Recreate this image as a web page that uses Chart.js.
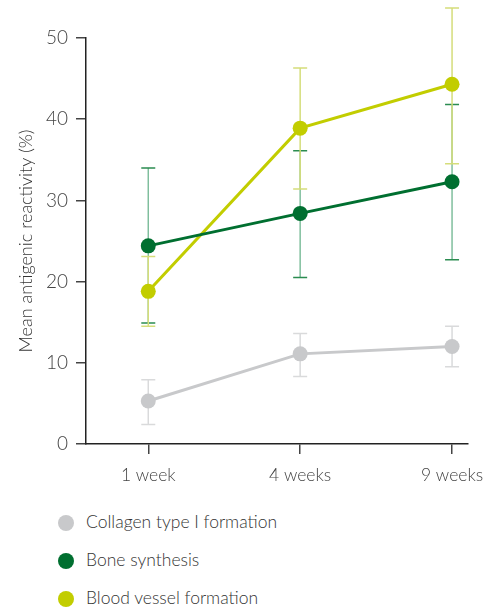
<!DOCTYPE html>
<html>
<head>
    <title>Mean antigenic reactivity</title>
    <script src="https://cdn.jsdelivr.net/npm/chart.js"></script>
    <style>
        body {
            margin: 0;
            font-family: Lato, "Open Sans", sans-serif;
            background: #fff;
        }
        #wrap {
            width: 487px;
            height: 500px;
            position: relative;
        }
        #legend {
            position: absolute;
            left: 58px;
            top: 511px;
            font-size: 17.5px;
            font-weight: 300;
            color: #333;
        }
        .item {
            height: 38px;
            display: flex;
            align-items: flex-start;
        }
        .dot {
            width: 16px;
            height: 16px;
            border-radius: 50%;
            margin-right: 12px;
            margin-top: 4px;
        }
    </style>
</head>
<body>
    <div id="wrap"><canvas id="chart"></canvas></div>
    <div id="legend"></div>

    <script>
        const weeks = ["1 week", "4 weeks", "9 weeks"];
        const yTicks = [0, 10, 20, 30, 40, 50];

        const collagen = [5.3, 11.1, 12.0];
        const collagenLow = [2.4, 8.3, 9.5];
        const collagenHigh = [7.9, 13.6, 14.5];

        const bone = [24.4, 28.4, 32.3];
        const boneLow = [14.9, 20.5, 22.7];
        const boneHigh = [34.0, 36.1, 41.8];

        const vessel = [18.8, 38.9, 44.3];
        const vesselLow = [14.5, 31.4, 34.5];
        const vesselHigh = [23.1, 46.3, 53.7];

        const series = [
            { label: "Collagen type I formation", values: collagen, low: collagenLow, high: collagenHigh, color: "#c8c9cb", errColor: "#d9dadb", capColor: "#d9dadb" },
            { label: "Bone synthesis", values: bone, low: boneLow, high: boneHigh, color: "#006f30", errColor: "rgba(0,125,60,0.5)", capColor: "#2b8c50" },
            { label: "Blood vessel formation", values: vessel, low: vesselLow, high: vesselHigh, color: "#c2cd00", errColor: "#d5dd7a", capColor: "#d5dd7a" }
        ];

        // error bars drawn from the scales, behind the lines
        const errorBars = {
            id: "errorBars",
            beforeDatasetsDraw(chart) {
                const ctx = chart.ctx;
                const xs = chart.scales.x, ys = chart.scales.y;
                ctx.save();
                ctx.lineWidth = 1.5;
                series.forEach(s => {
                    s.values.forEach((v, i) => {
                        const x = xs.getPixelForValue(i);
                        const top = ys.getPixelForValue(s.high[i]);
                        const bot = ys.getPixelForValue(s.low[i]);
                        ctx.strokeStyle = s.errColor;
                        ctx.beginPath();
                        ctx.moveTo(x, top); ctx.lineTo(x, bot);
                        ctx.stroke();
                        ctx.strokeStyle = s.capColor;
                        ctx.beginPath();
                        ctx.moveTo(x - 7, top); ctx.lineTo(x + 7, top);
                        ctx.moveTo(x - 7, bot); ctx.lineTo(x + 7, bot);
                        ctx.stroke();
                    });
                });
                ctx.restore();
            }
        };

        const font = { family: "Lato, 'Open Sans', sans-serif", weight: 300 };

        new Chart(document.getElementById("chart"), {
            type: "line",
            data: {
                datasets: series.map(s => ({
                    label: s.label,
                    data: s.values.map((v, i) => ({ x: i, y: v })),
                    borderColor: s.color,
                    backgroundColor: s.color,
                    borderWidth: 3,
                    pointRadius: 7.5,
                    pointBorderWidth: 0,
                    fill: false
                }))
            },
            options: {
                responsive: true,
                maintainAspectRatio: false,
                animation: false,
                layout: { padding: { top: 38, right: 19, left: 0, bottom: 0 } },
                plugins: { legend: { display: false }, tooltip: { enabled: false } },
                scales: {
                    x: {
                        type: "linear",
                        min: -0.41,
                        max: 2.105,
                        afterBuildTicks: axis => { axis.ticks = weeks.map((w, i) => ({ value: i })); },
                        afterFit: axis => {
                            axis.height = 56;
                            axis.paddingLeft = 0;
                            axis.paddingRight = 0;
                        },
                        ticks: {
                            callback: v => weeks[v],
                            color: "#444",
                            font: { ...font, size: 17.5 },
                            padding: 11
                        },
                        grid: { drawOnChartArea: false, tickLength: 10, color: "#444", lineWidth: 1.5 },
                        border: { color: "#222", width: 1.5 }
                    },
                    y: {
                        min: 0,
                        max: 50,
                        afterBuildTicks: axis => { axis.ticks = yTicks.map(v => ({ value: v })); },
                        afterFit: axis => { axis.width = 86; },
                        ticks: {
                            color: "#444",
                            font: { ...font, size: 19 },
                            padding: 8
                        },
                        grid: { drawOnChartArea: false, tickLength: 10, color: "#444", lineWidth: 1.5 },
                        border: { color: "#222", width: 1.5 },
                        title: {
                            display: true,
                            text: "Mean antigenic reactivity (%)",
                            color: "#333",
                            font: { ...font, size: 18 },
                            padding: { top: 15, bottom: 0 }
                        }
                    }
                }
            },
            plugins: [errorBars]
        });

        const legend = document.getElementById("legend");
        series.forEach(s => {
            const row = document.createElement("div");
            row.className = "item";
            row.innerHTML = `<span class="dot" style="background:${s.color}"></span><span>${s.label}</span>`;
            legend.appendChild(row);
        });
    </script>
</body>
</html>
